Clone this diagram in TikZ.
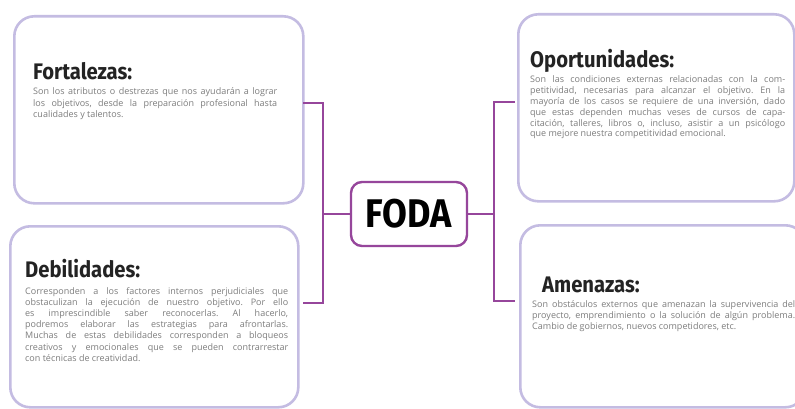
\documentclass[tikz,border=0pt]{standalone}
\usepackage{fontspec}
\setmainfont{Open Sans}
\newfontfamily\titlefont[FakeStretch=0.9]{Fira Sans}
\definecolor{boxline}{RGB}{196,188,226}
\definecolor{connc}{RGB}{150,70,155}
\definecolor{bodygray}{RGB}{125,125,125}
\definecolor{titleink}{RGB}{35,35,35}
\frenchspacing
\begin{document}
\begin{tikzpicture}[x=1pt,y=-1pt,
  bigbox/.style={draw=boxline, line width=2.6pt, rounded corners=20pt, fill=white, anchor=north west, inner sep=0pt},
  ttl/.style={anchor=base west, inner sep=0pt, text=titleink, font=\titlefont\bfseries\fontsize{22.5}{24}\selectfont},
  bodytext/.style={anchor=base west, inner sep=0pt, text=bodygray, align=justify, font=\fontsize{9}{11.2}\selectfont},
  fodabox/.style={draw=connc, line width=2.4pt, rounded corners=11pt, fill=white, minimum width=116pt, minimum height=64pt, inner sep=0pt, text=black, font=\titlefont\bfseries\fontsize{40}{42}\selectfont},
  connector/.style={draw=connc, line width=2.6pt, line join=miter}]
\useasboundingbox[fill=white] (0,0) rectangle (795,409);
% boxes
\node[bigbox, minimum width=289pt, minimum height=187pt] (F) at (13,15) {};
\node[bigbox, minimum width=288pt, minimum height=181pt] (D) at (9,225) {};
\node[bigbox, minimum width=276pt, minimum height=187pt] (O) at (517,13) {};
\node[bigbox, minimum width=285pt, minimum height=182pt] (A) at (519,224) {};
% texts
\node[ttl] (Ft) at (33,80) {Fortalezas:};
\node[bodytext, text width=244pt] (Fb) at (33,95) {\frenchspacing Son los atributos o destrezas que nos ayudarán a lograr\linebreak los objetivos, desde la preparación profesional hasta\linebreak cualidades y talentos.};
\node[ttl] (Dt) at (25,277) {Debilidades:};
\node[bodytext, text width=263pt] (Db) at (25,294) {\frenchspacing Corresponden a los factores internos perjudiciales que\linebreak obstaculizan la ejecución de nuestro objetivo. Por ello\linebreak es imprescindible saber reconocerlas. Al hacerlo,\linebreak podremos elaborar las estrategias para afrontarlas.\linebreak Muchas de estas debilidades corresponden a bloqueos\linebreak creativos y emocionales que se pueden contrarrestar\linebreak con técnicas de creatividad.};
\node[ttl] (Ot) at (530,68) {Oportunidades:};
\node[bodytext, text width=255pt, font=\fontsize{9}{10.8}\selectfont] (Ob) at (530,83) {\frenchspacing Son las condiciones externas relacionadas con la com-\linebreak petitividad, necesarias para alcanzar el objetivo. En la\linebreak mayoría de los casos se requiere de una inversión, dado\linebreak que estas dependen muchas veses de cursos de capa-\linebreak citación, talleres, libros o, incluso, asistir a un psicólogo\linebreak que mejore nuestra competitividad emocional.};
\node[ttl] (At) at (542,292) {Amenazas:};
\node[bodytext, text width=263pt, font=\fontsize{9}{11}\selectfont] (Ab) at (532,307) {\frenchspacing Son obstáculos externos que amenazan la supervivencia del\linebreak proyecto, emprendimiento o la solución de algún problema.\linebreak Cambio de gobiernos, nuevos competidores, etc.};
% centre
\node[fodabox] (C) at (409,214) {FODA};
% connector points
\coordinate (lt) at (303,103);
\coordinate (lb) at (303,303);
\coordinate (lm) at (323,214);
\coordinate (rt) at (515,102);
\coordinate (rb) at (515,301);
\coordinate (rm) at (494,214);
\draw[connector] (lt) -| (lm) |- (lb);
\draw[connector] (C.west) -- (lm);
\draw[connector] (rt) -| (rm) |- (rb);
\draw[connector] (C.east) -- (rm);
\end{tikzpicture}
\end{document}
